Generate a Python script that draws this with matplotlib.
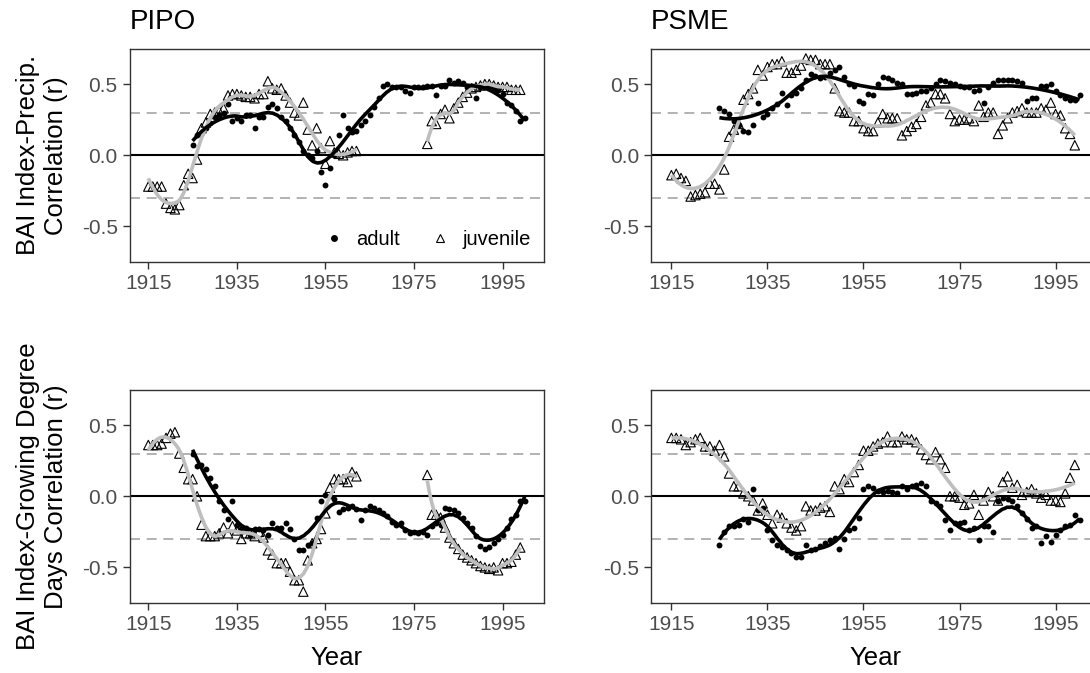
import numpy as np
import matplotlib
matplotlib.use("Agg")
import matplotlib.pyplot as plt
from matplotlib.lines import Line2D

plt.rcParams["font.family"] = ["Liberation Sans", "DejaVu Sans"]

nan = np.nan

# ---- data -------------------------------------------------------------
juv_years = np.arange(1915, 2000)
adult_years = np.arange(1925, 2001)

pipo_precip_juv = [
    -0.22, -0.22, -0.22, -0.22, -0.34, -0.37, -0.38, -0.35, -0.21, -0.13,
    -0.16, -0.03, 0.19, 0.23, 0.29, 0.30, 0.31, 0.33, 0.42, 0.43,
    0.43, 0.42, 0.41, 0.41, 0.40, 0.43, 0.43, 0.52, 0.47, 0.46,
    0.47, 0.42, 0.37, 0.30, 0.28, 0.37, 0.18, 0.07, 0.19, 0.05,
    -0.06, 0.10, 0.02, 0.01, 0.00, 0.02, 0.03, 0.03,
    nan, nan, nan, nan, nan, nan, nan, nan, nan, nan, nan, nan, nan, nan, nan,
    0.08, 0.24, 0.22, 0.29, 0.32, 0.26, 0.33, 0.37, 0.41, 0.44,
    0.47, 0.48, 0.49, 0.50, 0.50, 0.49, 0.48, 0.48, 0.48, 0.46,
    0.46, 0.46,
]
pipo_precip_adult = [
    0.07, 0.14, 0.15, 0.19, 0.23, 0.27, 0.28, 0.30, 0.36, 0.24,
    0.26, 0.24, 0.28, 0.28, 0.19, 0.27, 0.27, 0.34, 0.36, 0.33,
    0.27, 0.24, 0.19, 0.14, 0.09, 0.03, 0.00, -0.02, 0.03, -0.12,
    -0.21, -0.09, 0.00, 0.14, 0.28, 0.19, 0.16, 0.17, 0.21, 0.24,
    0.28, 0.34, 0.40, 0.49, 0.50, 0.48, 0.48, 0.48, 0.45, 0.44,
    0.48, 0.48, 0.48, 0.49, 0.49, 0.42, 0.49, 0.49, 0.53, 0.51,
    0.52, 0.51, 0.48, 0.49, 0.40, 0.48, 0.48, 0.48, 0.47, 0.46,
    0.43, 0.37, 0.35, 0.31, 0.24, 0.26,
]

psme_precip_juv = [
    -0.14, -0.13, -0.16, -0.18, -0.29, -0.28, -0.27, -0.26, -0.20, -0.20,
    -0.24, -0.10, 0.13, 0.18, 0.22, 0.39, 0.43, 0.47, 0.60, 0.56,
    0.62, 0.64, 0.64, 0.66, 0.58, 0.58, 0.60, 0.63, 0.68, 0.67,
    0.67, 0.64, 0.64, 0.64, 0.47, 0.31, 0.30, 0.30, 0.24, 0.24,
    0.19, 0.17, 0.17, 0.23, 0.29, 0.26, 0.26, 0.26, 0.14, 0.17,
    0.20, 0.22, 0.27, 0.35, 0.37, 0.43, 0.43, 0.40, 0.29, 0.24,
    0.25, 0.25, 0.26, 0.24, 0.35, 0.27, 0.30, 0.30, 0.15, 0.21,
    0.26, 0.30, 0.31, 0.33, 0.30, 0.30, 0.30, 0.33, 0.32, 0.37,
    0.29, 0.28, 0.19, 0.15, 0.07,
]
psme_precip_adult = [
    0.33, 0.31, 0.29, 0.24, 0.21, 0.17, 0.16, 0.21, 0.37, 0.27,
    0.29, 0.33, 0.36, 0.44, 0.35, 0.42, 0.44, 0.47, 0.53, 0.57,
    0.56, 0.54, 0.55, 0.58, 0.60, 0.62, 0.55, 0.50, 0.49, 0.38,
    0.37, 0.43, 0.42, 0.50, 0.55, 0.54, 0.53, 0.51, 0.50, 0.43,
    0.43, 0.44, 0.45, 0.45, 0.47, 0.50, 0.53, 0.52, 0.51, 0.50,
    0.49, 0.48, 0.48, 0.45, 0.46, 0.37, 0.48, 0.51, 0.53, 0.53,
    0.53, 0.53, 0.52, 0.51, 0.38, 0.40, 0.40, 0.49, 0.49, 0.50,
    0.45, 0.42, 0.40, 0.39, 0.39, 0.42,
]

pipo_gdd_juv = [
    0.36, 0.36, 0.36, 0.37, 0.41, 0.44, 0.45, 0.30, 0.20, 0.12,
    0.12, 0.00, -0.20, -0.28, -0.28, -0.28, -0.26, -0.22, -0.26, -0.21,
    -0.24, -0.30, -0.26, -0.26, -0.28, -0.25, -0.29, -0.38, -0.41, -0.47,
    -0.47, -0.47, -0.53, -0.59, -0.59, -0.67, -0.45, -0.33, -0.30, -0.23,
    -0.12, 0.06, 0.12, 0.12, 0.12, 0.10, 0.17, 0.14,
    nan, nan, nan, nan, nan, nan, nan, nan, nan, nan, nan, nan, nan, nan, nan,
    0.15, -0.13, -0.13, -0.15, -0.22, -0.29, -0.33, -0.37, -0.41, -0.43,
    -0.45, -0.47, -0.49, -0.50, -0.51, -0.50, -0.52, -0.47, -0.47, -0.46,
    -0.41, -0.36,
]
pipo_gdd_adult = [
    0.30, 0.21, 0.22, 0.19, 0.13, 0.07, -0.03, -0.10, -0.16, -0.03,
    -0.20, -0.23, -0.22, -0.27, -0.23, -0.23, -0.24, -0.27, -0.19, -0.22,
    -0.22, -0.19, -0.23, -0.30, -0.38, -0.38, -0.34, -0.33, -0.15, -0.03,
    0.01, 0.00, -0.02, -0.11, -0.09, -0.08, -0.07, -0.09, -0.17, -0.10,
    -0.07, -0.08, -0.10, -0.12, -0.14, -0.18, -0.20, -0.19, -0.24, -0.26,
    -0.25, -0.26, -0.25, -0.27, -0.21, -0.19, -0.20, -0.08, -0.09, -0.10,
    -0.12, -0.15, -0.19, -0.22, -0.28, -0.35, -0.37, -0.36, -0.33, -0.30,
    -0.27, -0.22, -0.16, -0.13, -0.03, -0.03,
]

psme_gdd_juv = [
    0.41, 0.41, 0.40, 0.36, 0.38, 0.40, 0.41, 0.35, 0.35, 0.32,
    0.36, 0.28, 0.16, 0.07, 0.07, 0.02, 0.00, -0.03, -0.10, -0.05,
    -0.13, -0.19, -0.13, -0.15, -0.19, -0.22, -0.24, -0.21, -0.07, -0.10,
    -0.10, -0.08, -0.07, -0.11, 0.07, 0.05, 0.12, 0.10, 0.17, 0.22,
    0.32, 0.32, 0.35, 0.37, 0.38, 0.42, 0.38, 0.38, 0.42, 0.40,
    0.40, 0.38, 0.33, 0.29, 0.26, 0.31, 0.26, 0.20, 0.00, 0.00,
    -0.01, -0.06, -0.05, 0.01, -0.13, -0.03, 0.03, 0.00, -0.03, 0.10,
    0.14, 0.06, 0.08, 0.01, 0.03, 0.05, 0.02, -0.01, 0.01, -0.03,
    -0.03, -0.04, 0.02, 0.13, 0.22,
]
psme_gdd_adult = [
    -0.34, -0.25, -0.21, -0.21, -0.20, -0.16, -0.18, 0.05, -0.10, -0.08,
    -0.24, -0.31, -0.34, -0.36, -0.38, -0.40, -0.43, -0.43, -0.34, -0.38,
    -0.37, -0.35, -0.33, -0.31, -0.29, -0.37, -0.30, -0.24, -0.22, -0.15,
    0.05, 0.07, 0.06, 0.04, 0.03, 0.04, 0.03, 0.02, 0.07, 0.05,
    0.07, 0.08, 0.09, 0.07, -0.03, -0.05, -0.07, -0.17, -0.24, -0.19,
    -0.19, -0.18, -0.24, -0.22, -0.31, -0.21, -0.21, -0.25, -0.03, -0.01,
    -0.02, -0.03, -0.07, -0.12, -0.16, -0.22, -0.21, -0.33, -0.28, -0.32,
    -0.27, -0.24, -0.21, -0.20, -0.13, -0.17,
]

species_titles = ["PIPO", "PSME"]
ylabels = ["BAI Index-Precip.\nCorrelation (r)",
           "BAI Index-Growing Degree\nDays Correlation (r)"]
xticks = [1915, 1935, 1955, 1975, 1995]
yticks = [-0.5, 0.0, 0.5]
ytick_labels = ["-0.5", "0.0", "0.5"]

# (adult, juvenile, adult smoothing span, juvenile smoothing span)
panels = [
    [(pipo_precip_adult, pipo_precip_juv, 0.3, 0.3),
     (psme_precip_adult, psme_precip_juv, 0.4, 0.3)],
    [(pipo_gdd_adult, pipo_gdd_juv, 0.3, 0.3),
     (psme_gdd_adult, psme_gdd_juv, 0.3, 0.3)],
]


# ---- local regression smoother ---------------------------------------
def loess(x, y, span=0.3, n_out=150):
    x = np.asarray(x, float)
    y = np.asarray(y, float)
    n = len(x)
    q = max(int(np.ceil(span * n)), 4)
    grid = np.linspace(x.min(), x.max(), n_out)
    out = np.empty_like(grid)
    for i, x0 in enumerate(grid):
        d = np.abs(x - x0)
        h = np.sort(d)[q - 1] * 1.0001
        w = np.clip(1 - (d / h) ** 3, 0, None) ** 3
        X = np.column_stack([np.ones(n), x - x0, (x - x0) ** 2])
        W = np.sqrt(w)
        beta, *_ = np.linalg.lstsq(X * W[:, None], y * W, rcond=None)
        out[i] = beta[0]
    return grid, out


def segments(x, y):
    y = np.asarray(y, float)
    ok = ~np.isnan(y)
    segs, start = [], None
    for i, v in enumerate(ok):
        if v and start is None:
            start = i
        if (not v or i == len(ok) - 1) and start is not None:
            end = i + 1 if v else i
            segs.append((x[start:end], y[start:end]))
            start = None
    return segs


# ---- figure -------------------------------------------------------------
W, H = 1090, 673
fig = plt.figure(figsize=(W / 100, H / 100), dpi=100)

col_left = [129.5 / W, 651 / W]
col_width = [414 / W, 449 / W]
row_top = [48.5, 389.5]
row_h = 213.5

for r in range(2):
    for c in range(2):
        adult, juv, span_a, span_j = panels[r][c]
        ax = fig.add_axes([col_left[c], 1 - (row_top[r] + row_h) / H,
                           col_width[c], row_h / H])
        ax.set_xlim(1910.75, 2004.25)
        ax.set_ylim(-0.75, 0.75)

        ax.axhline(0.3, color="#A6A6A6", lw=1.2, ls=(0, (6, 4)), zorder=1)
        ax.axhline(-0.3, color="#A6A6A6", lw=1.2, ls=(0, (6, 4)), zorder=1)
        ax.axhline(0.0, color="black", lw=1.5, zorder=1)

        ax.scatter(adult_years, adult, s=18, color="black", lw=0, zorder=3)
        ax.scatter(juv_years, juv, s=46, marker="^", facecolor="none",
                   edgecolor="black", lw=0.8, zorder=3)

        for xs, ys in segments(juv_years, juv):
            gx, gy = loess(xs, ys, span_j)
            ax.plot(gx, gy, color="#BEBEBE", lw=2.6, zorder=4,
                    solid_capstyle="butt")
        gx, gy = loess(adult_years, adult, span_a)
        ax.plot(gx, gy, color="black", lw=2.6, zorder=5,
                solid_capstyle="butt")

        ax.set_xticks(xticks)
        ax.set_yticks(yticks)
        ax.set_yticklabels(ytick_labels)
        ax.tick_params(direction="out", length=5, width=1.0, color="#333333",
                       labelsize=15, labelcolor="#4D4D4D", pad=3.5)
        for s in ax.spines.values():
            s.set_color("#333333")
            s.set_linewidth(1.0)

        if r == 0:
            ax.set_title(species_titles[c], loc="left", fontsize=20,
                         pad=14, color="black")
        if r == 1:
            ax.set_xlabel("Year", fontsize=18.5, labelpad=9)
        if c == 0:
            ax.set_ylabel(ylabels[r], fontsize=18.5, labelpad=10,
                          linespacing=1.2)

        if r == 0 and c == 0:
            handles = [
                Line2D([], [], ls="none", marker="o", ms=5,
                       color="black", mew=0),
                Line2D([], [], ls="none", marker="^", ms=6,
                       mfc="none", mec="black", mew=0.8),
            ]
            ax.legend(handles, ["adult", "juvenile"], loc="lower right",
                      ncol=2, frameon=False, fontsize=14.5,
                      handletextpad=0.5, columnspacing=1.4,
                      borderaxespad=0.25, handlelength=1.2)

fig.savefig("out.png", dpi=100)
